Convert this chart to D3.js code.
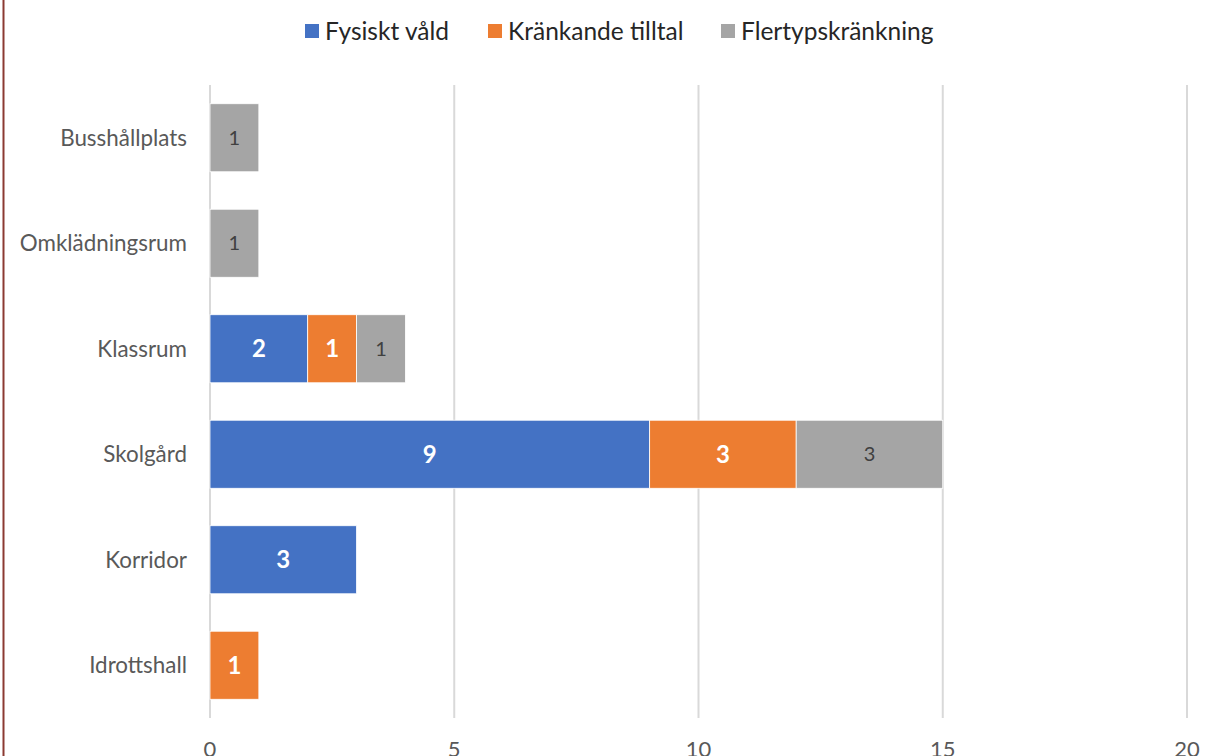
<!DOCTYPE html>
<html>
<head>
<meta charset="utf-8">
<script src="https://cdn.jsdelivr.net/npm/d3@7"></script>
<style>
  body { margin: 0; background: #fff; }
  svg { font-family: Lato, "Open Sans", sans-serif; display: block; }
</style>
</head>
<body>
<svg class="chart"></svg>
<script>
// data
var categories = ["Busshållplats", "Omklädningsrum", "Klassrum", "Skolgård", "Korridor", "Idrottshall"];
var seriesNames = ["Fysiskt våld", "Kränkande tilltal", "Flertypskränkning"];
var fysisktVald = [0, 0, 2, 9, 3, 0];
var krankandeTilltal = [0, 0, 1, 3, 0, 1];
var flertyps = [1, 1, 1, 3, 0, 0];
var xTicks = [0, 5, 10, 15, 20];

var colors = ["#4472C4", "#ED7D31", "#A5A5A5"];
var labelColors = ["#fff", "#fff", "#404040"];
var labelWeights = ["bold", "bold", "normal"];

var W = 1208, H = 756;
var svg = d3.select(".chart").attr("width", W).attr("height", H);

// left frame line
svg.append("line")
  .attr("x1", 3.5).attr("x2", 3.5).attr("y1", 0).attr("y2", H)
  .attr("stroke", "#8B3A32").attr("stroke-width", 2);

var x = d3.scaleLinear().domain([0, 20]).range([210, 1187]);
var y = d3.scaleBand().domain(categories).range([85, 718]).paddingInner(0.355).paddingOuter(0.1775);

// gridlines
svg.append("g").selectAll("line").data(xTicks).enter().append("line")
  .attr("x1", function(d) { return x(d); })
  .attr("x2", function(d) { return x(d); })
  .attr("y1", 85).attr("y2", 718)
  .attr("stroke", "#D9D9D9").attr("stroke-width", 2);

// x tick labels (cut at the bottom edge, as in the original)
svg.append("g").selectAll("text").data(xTicks).enter().append("text")
  .attr("x", function(d) { return x(d); })
  .attr("y", 757)
  .attr("text-anchor", "middle")
  .attr("font-size", 22)
  .attr("fill", "#595959")
  .text(function(d) { return d; });

// category labels
svg.append("g").selectAll("text").data(categories).enter().append("text")
  .attr("x", 187)
  .attr("y", function(d) { return y(d) + y.bandwidth() / 2; })
  .attr("dy", "0.35em")
  .attr("text-anchor", "end")
  .attr("font-size", 22.4)
  .attr("fill", "#595959")
  .text(function(d) { return d; });

// stacked bars
var rows = categories.map(function(c, i) {
  return { cat: c, s0: fysisktVald[i], s1: krankandeTilltal[i], s2: flertyps[i] };
});
var stack = d3.stack().keys(["s0", "s1", "s2"]);
var layers = stack(rows);

var g = svg.append("g");
layers.forEach(function(layer, li) {
  var seg = g.selectAll(".seg" + li).data(layer.filter(function(d) { return d[1] - d[0] > 0; }))
    .enter();
  seg.append("rect")
    .attr("x", function(d) { return x(d[0]); })
    .attr("y", function(d) { return y(d.data.cat); })
    .attr("width", function(d) { return x(d[1]) - x(d[0]); })
    .attr("height", y.bandwidth())
    .attr("fill", colors[li])
    .attr("stroke", "#fff").attr("stroke-width", 0.8);
  seg.append("text")
    .attr("x", function(d) { return (x(d[0]) + x(d[1])) / 2; })
    .attr("y", function(d) { return y(d.data.cat) + y.bandwidth() / 2; })
    .attr("dy", "0.36em")
    .attr("text-anchor", "middle")
    .attr("font-size", labelWeights[li] == "bold" ? 24 : 20)
    .attr("font-weight", labelWeights[li])
    .attr("fill", labelColors[li])
    .text(function(d) { return d[1] - d[0]; });
});

// legend
var legendX = [305, 488, 721];
var legend = svg.append("g").selectAll("g").data(seriesNames).enter().append("g")
  .attr("transform", function(d, i) { return "translate(" + legendX[i] + ",0)"; });
legend.append("rect")
  .attr("x", 0).attr("y", 24).attr("width", 14).attr("height", 14)
  .attr("fill", function(d, i) { return colors[i]; });
legend.append("text")
  .attr("x", 20).attr("y", 31).attr("dy", "0.36em")
  .attr("font-size", 24.5)
  .attr("fill", "#262626")
  .text(function(d) { return d; });
</script>
</body>
</html>
